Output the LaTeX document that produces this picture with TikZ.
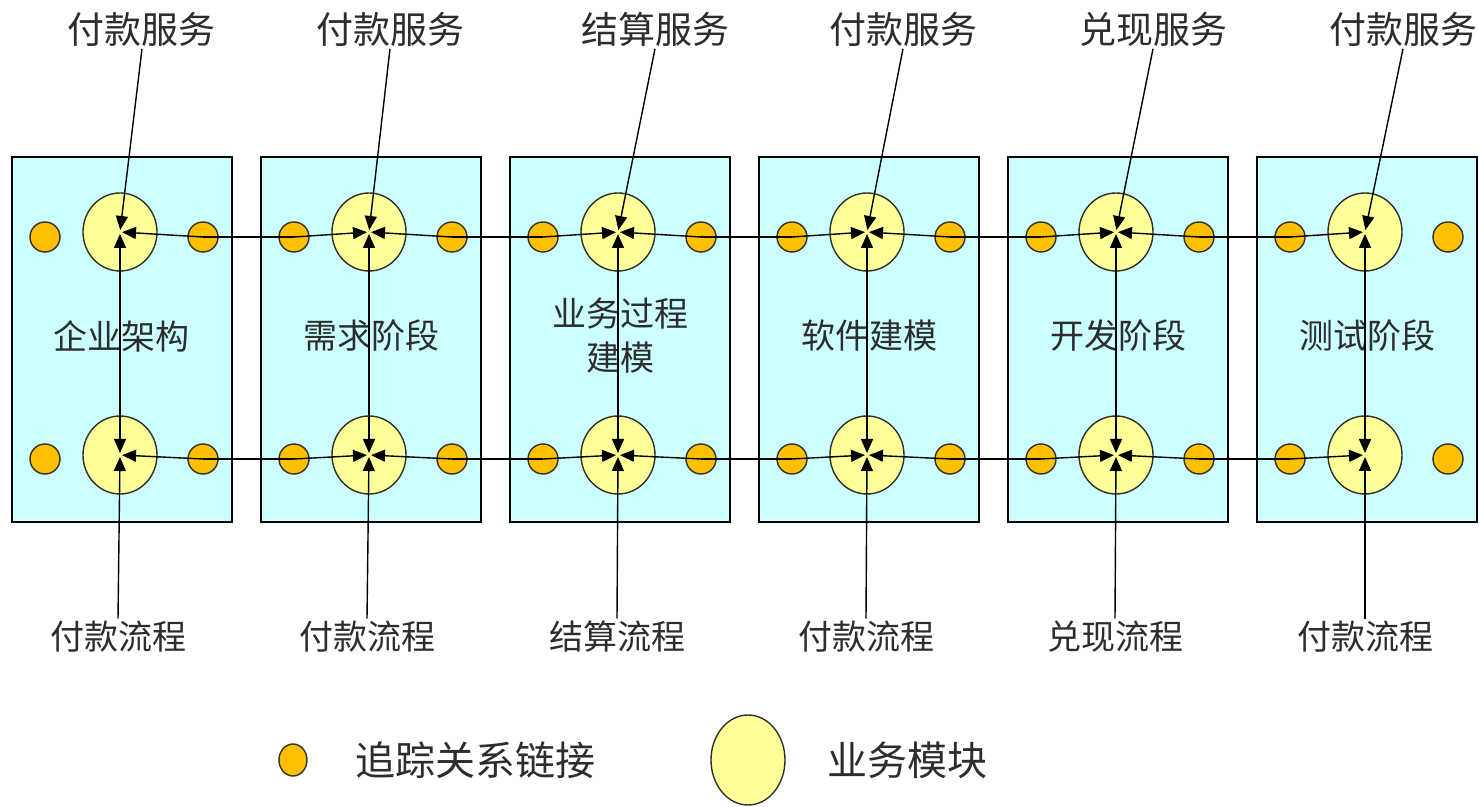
\documentclass[tikz,border=0pt]{standalone}
\usepackage{fontspec}
\setmainfont{Noto Sans CJK SC}
\usepackage{xcolor}
\usepackage{tikz}
\usetikzlibrary{shapes}
\usetikzlibrary{positioning}
\usetikzlibrary{shapes.geometric}
\usetikzlibrary{arrows.meta}

\definecolor{stagecyan}{RGB}{204,255,255}
\definecolor{modyellow}{RGB}{255,255,153}
\definecolor{linkorange}{RGB}{255,192,0}
\definecolor{txtgray}{RGB}{45,45,45}

\begin{document}
\begin{tikzpicture}[
	x=0.5pt, y=-0.5pt,
	line width=0.7pt,
	>={Triangle[length=7pt,width=6pt]}
]
\tikzset{
    mystage/.style = {rectangle, draw=black, fill=stagecyan, minimum width=110pt, minimum height=182.5pt, inner sep=0pt},
    mymod/.style = {ellipse, draw=black!85!olive, fill=modyellow, minimum width=37pt, minimum height=39pt, inner sep=0pt},
    mylink/.style = {circle, draw=black!85!olive, fill=linkorange, minimum size=15pt, inner sep=0pt},
    mytext/.style = {text=txtgray, font=\fontsize{17pt}{22pt}\selectfont, align=center, inner sep=0pt},
    mytop/.style = {text=txtgray, font=\fontsize{18.5pt}{22pt}\selectfont, inner sep=1pt},
    mybot/.style = {text=txtgray, font=\fontsize{17pt}{20pt}\selectfont, inner sep=1pt},
    mylegend/.style = {text=txtgray, font=\fontsize{20pt}{24pt}\selectfont}
}
\useasboundingbox (0,0) rectangle (1479,807);

% stages with modules and trace links
\foreach \i/\name in {1/企业架构, 2/需求阶段, 3/{业务过程\\建模}, 4/软件建模, 5/开发阶段, 6/测试阶段} {
  \pgfmathsetmacro{\sx}{122+249*(\i-1)}
  \pgfmathsetmacro{\mx}{120+249*(\i-1)}
  \pgfmathsetmacro{\lx}{45+249*(\i-1)}
  \pgfmathsetmacro{\rx}{203+249*(\i-1)}
  \node[mystage] (s\i) at (\sx,339.5) {};
  \node[mytext] (n\i) at (\sx,336) {\name};
  \node[mymod] (t\i) at (\mx,232) {};
  \node[mymod] (b\i) at (\mx,455) {};
  \node[mylink] (tl\i) at (\lx,237) {};
  \node[mylink] (tr\i) at (\rx,237) {};
  \node[mylink] (bl\i) at (\lx,459) {};
  \node[mylink] (br\i) at (\rx,459) {};
}

% services above, processes below
\node[mytop] (u1) at (142,29) {付款服务};
\node[mytop] (u2) at (390,29) {付款服务};
\node[mytop] (u3) at (655,29) {结算服务};
\node[mytop] (u4) at (903,29) {付款服务};
\node[mytop] (u5) at (1153,29) {兑现服务};
\node[mytop] (u6) at (1403,29) {付款服务};
\node[mybot] (d1) at (118,637) {付款流程};
\node[mybot] (d2) at (367,637) {付款流程};
\node[mybot] (d3) at (617,637) {结算流程};
\node[mybot] (d4) at (866,637) {付款流程};
\node[mybot] (d5) at (1115,637) {兑现流程};
\node[mybot] (d6) at (1365,637) {付款流程};

\foreach \i in {1,...,6} {
  \draw[->,shorten >=1pt] (u\i.south) -- (t\i.center);
  \draw[->,shorten >=1pt] (d\i.north) -- (b\i.center);
  \draw[<->,shorten >=1pt,shorten <=1pt] (t\i.center) -- (b\i.center);
}
\foreach \i [evaluate=\i as \j using int(\i+1)] in {1,...,5} {
  \draw[->,shorten >=1pt] (tr\i.center) -- (t\i.center);
  \draw (tr\i.center) -- (tl\j.center);
  \draw[->,shorten >=1pt] (tl\j.center) -- (t\j.center);
  \draw[->,shorten >=1pt] (br\i.center) -- (b\i.center);
  \draw (br\i.center) -- (bl\j.center);
  \draw[->,shorten >=1pt] (bl\j.center) -- (b\j.center);
}

% legend
\node[mylink, ellipse, minimum width=14pt, minimum height=16pt] (lg1) at (293,760) {};
\node[mylegend, right=20pt of lg1] (lt1) {追踪关系链接};
\node[mymod, minimum width=37pt, minimum height=45pt] (lg2) at (748,760) {};
\node[mylegend, right=17pt of lg2] (lt2) {业务模块};
\end{tikzpicture}
\end{document}
